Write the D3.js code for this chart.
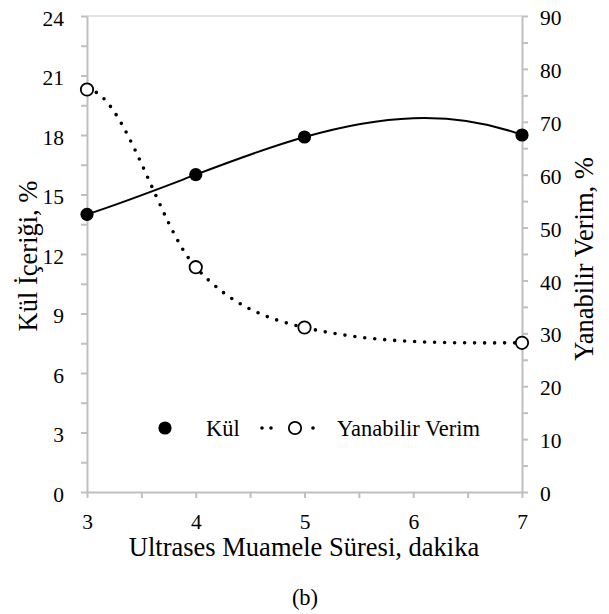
<!DOCTYPE html>
<html>
<head>
<meta charset="utf-8">
<script src="https://cdn.jsdelivr.net/npm/d3@7"></script>
<style>
  html, body { margin: 0; padding: 0; background: #fff; }
  svg { display: block; }
  .axis text { font-family: "Liberation Serif", "Times New Roman", serif; font-size: 21.5px; fill: #000; }
  .axis path, .axis line { stroke: #bfbfbf; stroke-width: 2; }
  .title { font-family: "Liberation Serif", "Times New Roman", serif; font-size: 26.5px; fill: #000; }
  .legend { font-family: "Liberation Serif", "Times New Roman", serif; font-size: 22.5px; fill: #000; }
</style>
</head>
<body>
<script>
// ---- data ----
const minutes = [3, 4, 5, 7];
const kulValues = [14.0, 16.0, 17.9, 18.0];          // Kül İçeriği, %
const verimValues = [76.1, 42.5, 31.1, 28.2];        // Yanabilir Verim, %
const xTicks = [3, 4, 5, 6, 7];
const xMinorTicks = [3.5, 4.5, 5.5, 6.5];
const leftTicks = [0, 3, 6, 9, 12, 15, 18, 21, 24];
const leftMinorTicks = [1.5, 4.5, 7.5, 10.5, 13.5, 16.5, 19.5, 22.5];
const rightTicks = [0, 10, 20, 30, 40, 50, 60, 70, 80, 90];
const rightMinorTicks = [5, 15, 25, 35, 45, 55, 65, 75, 85];
const xTitle = "Ultrases Muamele Süresi, dakika";
const leftTitle = "Kül İçeriği, %";
const rightTitle = "Yanabilir Verim, %";
const legendLabels = ["Kül", "Yanabilir Verim"];
const caption = "(b)";

const W = 609, H = 614;
const L = 87, R = 522, T = 16, B = 492;

const svg = d3.select("body").append("svg").attr("width", W).attr("height", H);

const x = d3.scaleLinear().domain([3, 7]).range([L, R]);
const yL = d3.scaleLinear().domain([0, 24]).range([B, T]);
const yR = d3.scaleLinear().domain([0, 90]).range([B, T]);

// polynomial (trendline-like) curve through all points, emitted as exact cubic Bezier segments
function curvePoly(context) {
  let pts = [];
  const f = (xx) => {
    let s = 0;
    for (let i = 0; i < pts.length; i++) {
      let p = pts[i][1];
      for (let j = 0; j < pts.length; j++) if (j !== i) p *= (xx - pts[j][0]) / (pts[i][0] - pts[j][0]);
      s += p;
    }
    return s;
  };
  const df = (xx) => (f(xx + 0.01) - f(xx - 0.01)) / 0.02;
  return {
    areaStart() {}, areaEnd() {},
    lineStart() { pts = []; },
    point(a, b) { pts.push([+a, +b]); },
    lineEnd() {
      if (!pts.length) return;
      context.moveTo(pts[0][0], pts[0][1]);
      for (let i = 0; i < pts.length - 1; i++) {
        const [x0, y0] = pts[i], [x1, y1] = pts[i + 1], h = x1 - x0;
        context.bezierCurveTo(x0 + h / 3, y0 + df(x0) * h / 3, x1 - h / 3, y1 - df(x1) * h / 3, x1, y1);
      }
    }
  };
}

// Hermite smoothing: flat at the ends, centred secant slope inside
function curveSmoothFlatEnds(context) {
  let pts = [];
  return {
    areaStart() {}, areaEnd() {},
    lineStart() { pts = []; },
    point(a, b) { pts.push([+a, +b]); },
    lineEnd() {
      const n = pts.length;
      if (!n) return;
      const m = pts.map((p, i) => (i === 0 || i === n - 1) ? 0 :
        (pts[i + 1][1] - pts[i - 1][1]) / (pts[i + 1][0] - pts[i - 1][0]));
      context.moveTo(pts[0][0], pts[0][1]);
      for (let i = 0; i < n - 1; i++) {
        const [x0, y0] = pts[i], [x1, y1] = pts[i + 1], h = x1 - x0;
        context.bezierCurveTo(x0 + h / 3, y0 + m[i] * h / 3, x1 - h / 3, y1 - m[i + 1] * h / 3, x1, y1);
      }
    }
  };
}

// top border
svg.append("line").attr("x1", L).attr("x2", R).attr("y1", T).attr("y2", T)
  .attr("stroke", "#d9d9d9").attr("stroke-width", 1.5);

// axes
svg.append("g").attr("class", "axis").attr("transform", `translate(0,${B})`)
  .call(d3.axisBottom(x).tickValues(xTicks).tickFormat(d3.format("d")).tickSize(6).tickSizeOuter(0).tickPadding(16));
svg.append("g").attr("class", "axis").attr("transform", `translate(0,${B})`)
  .call(d3.axisBottom(x).tickValues(xMinorTicks).tickFormat(() => "").tickSize(6).tickSizeOuter(0))
  .select(".domain").remove();

const gl = svg.append("g").attr("class", "axis").attr("transform", `translate(${L},0)`)
  .call(d3.axisLeft(yL).tickValues(leftTicks).tickFormat(d3.format("d")).tickSize(6).tickSizeOuter(0).tickPadding(17));
gl.selectAll("text").attr("dy", "0.42em");
svg.append("g").attr("class", "axis").attr("transform", `translate(${L},0)`)
  .call(d3.axisLeft(yL).tickValues(leftMinorTicks).tickFormat(() => "").tickSize(6).tickSizeOuter(0))
  .select(".domain").remove();

const gr = svg.append("g").attr("class", "axis").attr("transform", `translate(${R},0)`)
  .call(d3.axisRight(yR).tickValues(rightTicks).tickFormat(d3.format("d")).tickSize(6).tickSizeOuter(0).tickPadding(12));
gr.selectAll("text").attr("dy", "0.4em");
svg.append("g").attr("class", "axis").attr("transform", `translate(${R},0)`)
  .call(d3.axisRight(yR).tickValues(rightMinorTicks).tickFormat(() => "").tickSize(6).tickSizeOuter(0))
  .select(".domain").remove();

// titles
svg.append("text").attr("class", "title").attr("x", 304).attr("y", 556)
  .attr("text-anchor", "middle").text(xTitle);
svg.append("text").attr("class", "title").attr("text-anchor", "middle")
  .attr("transform", "translate(37,256) rotate(-90)").text(leftTitle);
svg.append("text").attr("class", "title").attr("text-anchor", "middle")
  .attr("transform", "translate(593,259) rotate(-90)").text(rightTitle);
svg.append("text").attr("class", "legend").attr("x", 305).attr("y", 605)
  .attr("text-anchor", "middle").text(caption);

const kulData = minutes.map((m, i) => ({ m, v: kulValues[i] }));
const verimData = minutes.map((m, i) => ({ m, v: verimValues[i] }));

// Kül curve
svg.append("path").datum(kulData)
  .attr("fill", "none").attr("stroke", "#000").attr("stroke-width", 2)
  .attr("d", d3.line().x(d => x(d.m)).y(d => yL(d.v)).curve(curvePoly));

// Yanabilir Verim dotted curve
svg.append("path").datum(verimData)
  .attr("fill", "none").attr("stroke", "#000").attr("stroke-width", 3.6)
  .attr("stroke-linecap", "round").attr("stroke-dasharray", "0 10")
  .attr("d", d3.line().x(d => x(d.m)).y(d => yR(d.v)).curve(curveSmoothFlatEnds));

// markers
svg.append("g").selectAll("circle").data(kulData).join("circle")
  .attr("cx", d => x(d.m)).attr("cy", d => yL(d.v)).attr("r", 6.6).attr("fill", "#000");
svg.append("g").selectAll("circle").data(verimData).join("circle")
  .attr("cx", d => x(d.m)).attr("cy", d => yR(d.v)).attr("r", 6.2)
  .attr("fill", "#fff").attr("stroke", "#000").attr("stroke-width", 1.8);

// legend
const ly = 428;
svg.append("circle").attr("cx", 165).attr("cy", ly).attr("r", 6.6).attr("fill", "#000");
svg.append("text").attr("class", "legend").attr("x", 206).attr("y", ly + 7.5).text(legendLabels[0]);
[[262, 280], [313, 322]].forEach(([a, b]) => {
  svg.append("line").attr("x1", a).attr("x2", b).attr("y1", ly).attr("y2", ly)
    .attr("stroke", "#000").attr("stroke-width", 3.6).attr("stroke-linecap", "round").attr("stroke-dasharray", "0 9");
});
svg.append("circle").attr("cx", 295).attr("cy", ly).attr("r", 6.2)
  .attr("fill", "#fff").attr("stroke", "#000").attr("stroke-width", 1.8);
svg.append("text").attr("class", "legend").attr("x", 337).attr("y", ly + 7.5).text(legendLabels[1]);
</script>
</body>
</html>
